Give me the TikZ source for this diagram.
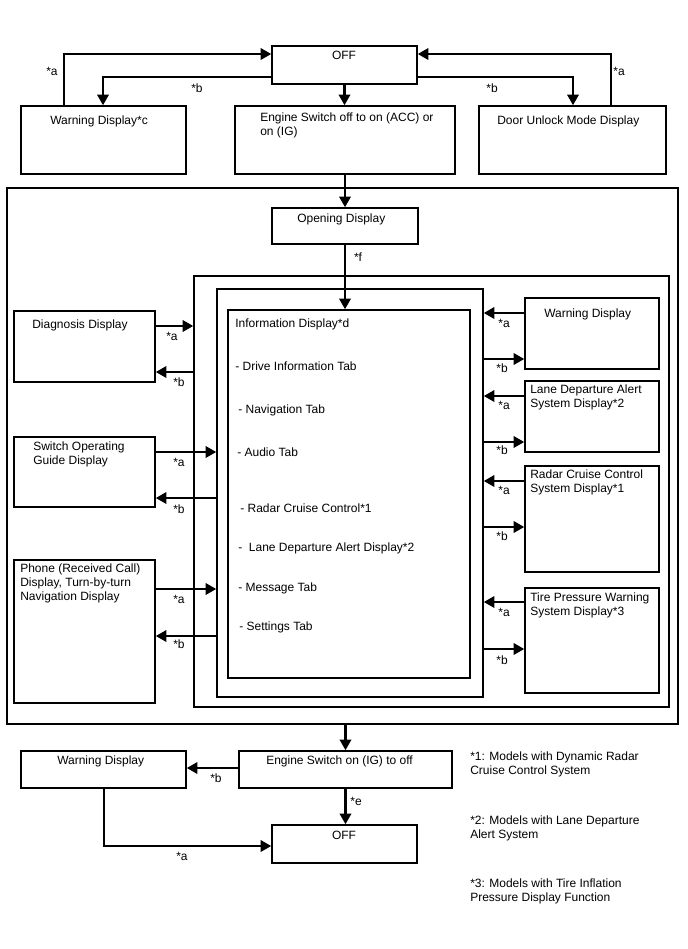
\documentclass[tikz,border=0pt]{standalone}
\usepackage{fontspec}
\setmainfont{Liberation Sans}
\usetikzlibrary{arrows.meta,fit,positioning}

\begin{document}
\begin{tikzpicture}[x=0.75pt, y=-0.75pt,
  font=\fontsize{9}{10.5}\selectfont,
  >={Triangle[length=8pt,width=8.5pt]},
  box/.style={draw, line width=1.1pt, inner sep=0pt},
  txt/.style={anchor=base west, inner sep=0pt},
  ltxt/.style={anchor=north west, inner sep=0pt, align=left},
  lab/.style={inner sep=0pt},
  arr/.style={->, line width=1.8pt}]

  \useasboundingbox[fill=white] (0,0) rectangle (688,949);

  % top row
  \node[box, fit={(272,46) (417,84)}] (off1) {};
  \node[box, fit={(21,106) (186,174)}] (warnc) {};
  \node[box, fit={(235,106) (455,174)}] (eng1) {};
  \node[box, fit={(479,106) (666,174)}] (door) {};
  \node[inner sep=0pt, anchor=base] (off1-t) at (344,60) {OFF};
  \node[txt] (warnc-t) at (50,124) {Warning Display*c};
  \node[ltxt] (eng1-t) at (260,113) {Engine Switch off to on (ACC) or\\on (IG)};
  \node[txt] (door-t) at (497,124) {Door Unlock Mode Display};

  \draw[arr] (warnc.north -| 64,0) |- (off1.west |- 0,54);
  \draw[arr] (off1.west |- 0,77) -| (warnc.north -| 103,0);
  \draw[arr] (door.north -| 611,0) |- (off1.east |- 0,54);
  \draw[arr] (off1.east |- 0,77) -| (door.north -| 573,0);
  \draw[arr] (off1.south) -- (off1.south |- eng1.north);
  \node[lab] (la1) at (52,71) {*a};
  \node[lab] (lb1) at (197,88) {*b};
  \node[lab] (lb2) at (492,88) {*b};
  \node[lab] (la2) at (619,71) {*a};

  % main frame with nested frames
  \node[box, fit={(7,188) (678,724)}] (big) {};
  \node[box, fit={(272,208) (418,244)}] (opening) {};
  \node[txt] (opening-t) at (297,222) {Opening Display};
  \node[box, fit={(194,276) (669,707)}] (grp) {};
  \node[box, fit={(217,289) (483,697)}] (mid) {};
  \node[box, fit={(228,310) (470,678)}] (info) {};

  \draw[arr] (eng1.south) -- (eng1.south |- opening.north);
  \draw[arr] (opening.south) -- (opening.south |- info.north);
  \node[lab] (lf) at (358,257) {*f};

  % tabs of the information display
  \node[txt] (info-t) at (235,327) {Information Display*d};
  \node[txt] (tab1) at (235,370) {- Drive Information Tab};
  \node[txt] (tab2) at (238,413) {- Navigation Tab};
  \node[txt] (tab3) at (237,456) {- Audio Tab};
  \node[txt] (tab4) at (240,512) {- Radar Cruise Control*1};
  \node[txt] (tab5) at (238,551) {- \ Lane Departure Alert Display*2};
  \node[txt] (tab6) at (238,591) {- Message Tab};
  \node[txt] (tab7) at (239,630) {- Settings Tab};

  % left column
  \node[box, fit={(14,311) (155,382)}] (diag) {};
  \node[txt] (diag-t) at (32,328) {Diagnosis Display};
  \node[box, fit={(14,437) (155,507)}] (sog) {};
  \node[ltxt] (sog-t) at (33,442) {Switch Operating\\Guide Display};
  \node[box, fit={(14,560) (155,703)}] (phone) {};
  \node[ltxt] (phone-t) at (20,564) {Phone (Received Call)\\Display, Turn-by-turn\\Navigation Display};

  \draw[arr] (diag.east |- 0,326) -- (grp.west |- 0,326);
  \draw[arr] (grp.west |- 0,372) -- (diag.east |- 0,372);
  \draw[arr] (sog.east |- 0,452) -- (mid.west |- 0,452);
  \draw[arr] (mid.west |- 0,498) -- (sog.east |- 0,498);
  \draw[arr] (phone.east |- 0,589) -- (mid.west |- 0,589);
  \draw[arr] (mid.west |- 0,636) -- (phone.east |- 0,636);
  \node[lab] (la3) at (172,336) {*a};
  \node[lab] (lb3) at (179,382) {*b};
  \node[lab] (la4) at (179,462) {*a};
  \node[lab] (lb4) at (179,509) {*b};
  \node[lab] (la5) at (179,599) {*a};
  \node[lab] (lb5) at (179,644) {*b};

  % right column
  \node[box, fit={(525,298) (659,369)}] (warnr) {};
  \node[txt] (warnr-t) at (544,317) {Warning Display};
  \node[box, fit={(525,381) (659,452)}] (lane) {};
  \node[ltxt] (lane-t) at (530,385) {Lane Departure Alert\\System Display*2};
  \node[box, fit={(525,466) (659,572)}] (radar) {};
  \node[ltxt] (radar-t) at (530,470) {Radar Cruise Control\\System Display*1};
  \node[box, fit={(525,588) (659,693)}] (tire) {};
  \node[ltxt] (tire-t) at (530,593) {Tire Pressure Warning\\System Display*3};

  \draw[arr] (warnr.west |- 0,313) -- (mid.east |- 0,313);
  \draw[arr] (mid.east |- 0,359) -- (warnr.west |- 0,359);
  \draw[arr] (lane.west |- 0,396) -- (mid.east |- 0,396);
  \draw[arr] (mid.east |- 0,442) -- (lane.west |- 0,442);
  \draw[arr] (radar.west |- 0,481) -- (mid.east |- 0,481);
  \draw[arr] (mid.east |- 0,527) -- (radar.west |- 0,527);
  \draw[arr] (tire.west |- 0,602) -- (mid.east |- 0,602);
  \draw[arr] (mid.east |- 0,649) -- (tire.west |- 0,649);
  \node[lab] (la6) at (504,323) {*a};
  \node[lab] (lb6) at (502,368) {*b};
  \node[lab] (la7) at (504,405) {*a};
  \node[lab] (lb7) at (502,450) {*b};
  \node[lab] (la8) at (504,490) {*a};
  \node[lab] (lb8) at (502,536) {*b};
  \node[lab] (la9) at (504,612) {*a};
  \node[lab] (lb9) at (502,660) {*b};

  % bottom row
  \node[box, fit={(239,751) (452,788)}] (eng2) {};
  \node[txt] (eng2-t) at (266,764) {Engine Switch on (IG) to off};
  \node[box, fit={(21,751) (186,788)}] (warnb) {};
  \node[txt] (warnb-t) at (57,764) {Warning Display};
  \node[box, fit={(272,825) (417,863)}] (off2) {};
  \node[inner sep=0pt, anchor=base] (off2-t) at (344,839) {OFF};

  \draw[arr] (eng2.north |- big.south) -- (eng2.north);
  \draw[arr] (eng2.west |- 0,768) -- (warnb.east |- 0,768);
  \draw[arr] (eng2.south) -- (eng2.south |- off2.north);
  \draw[arr] (warnb.south -| 104,0) |- (off2.west |- 0,846);
  \node[lab] (lb10) at (216,778) {*b};
  \node[lab] (le) at (356,801) {*e};
  \node[lab] (la10) at (182,856) {*a};

  % notes
  \node[ltxt] (note1) at (470,752) {*1: Models with Dynamic Radar\\Cruise Control System};
  \node[ltxt] (note2) at (470,816) {*2: Models with Lane Departure\\Alert System};
  \node[ltxt] (note3) at (470,879) {*3: Models with Tire Inflation\\Pressure Display Function};
\end{tikzpicture}
\end{document}
